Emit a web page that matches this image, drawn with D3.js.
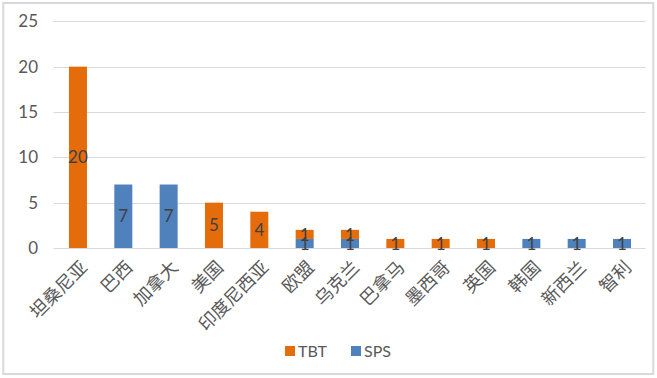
<!DOCTYPE html>
<html>
<head>
<meta charset="utf-8">
<script src="https://cdn.jsdelivr.net/npm/d3@7/dist/d3.min.js"></script>
<style>
  html, body { margin: 0; padding: 0; background: #fff; }
  svg { display: block; }
</style>
</head>
<body>
<svg id="chart" width="657" height="378"></svg>
<script>
const categories = ["坦桑尼亚","巴西","加拿大","美国","印度尼西亚","欧盟","乌克兰","巴拿马","墨西哥","英国","韩国","新西兰","智利"];
const tbtValues = [20,0,0,5,4,1,1,1,1,1,0,0,0];
const spsValues = [0,7,7,0,0,1,1,0,0,0,1,1,1];
const yTicks = [0,5,10,15,20,25];
const seriesNames = ["TBT","SPS"];
const colors = {TBT: "#E46C0A", SPS: "#4F81BD"};

const svg = d3.select("#chart");
const W = 657, H = 378;

svg.append("rect").attr("x", 3.3).attr("y", 3).attr("width", 650).attr("height", 371)
  .attr("fill", "#fff").attr("stroke", "#D9D9D9").attr("stroke-width", 2);

const x = d3.scaleBand().domain(categories).range([55.3, 644.7]).paddingInner(0.603).paddingOuter(0.3015);
const y = d3.scaleLinear().domain([0, 25]).range([248, 21.3]);

// gridlines
svg.append("g").selectAll("line").data(yTicks).join("line")
  .attr("x1", 53.5).attr("x2", 645.7)
  .attr("y1", d => Math.round(y(d)) + 0.5).attr("y2", d => Math.round(y(d)) + 0.5)
  .attr("stroke", "#D9D9D9").attr("stroke-width", 1);

// y axis labels
const yAxis = d3.axisLeft(y).tickValues(yTicks).tickSize(0).tickPadding(0);
const gy = svg.append("g").attr("transform", "translate(38,0)").call(yAxis);
gy.select(".domain").remove();
gy.selectAll("text").attr("font-family", "Lato, 'Liberation Sans', sans-serif")
  .attr("font-size", 17).attr("fill", "#595959");

// data
const rows = categories.map((c, i) => ({cat: c, SPS: spsValues[i], TBT: tbtValues[i]}));
const stack = d3.stack().keys(["SPS","TBT"]);
const stacked = stack(rows);

const gBars = svg.append("g");
stacked.forEach(s => {
  gBars.append("g").attr("fill", colors[s.key]).selectAll("rect").data(s).join("rect")
    .attr("x", d => x(d.data.cat))
    .attr("width", x.bandwidth())
    .attr("y", d => y(d[1]))
    .attr("height", d => y(d[0]) - y(d[1]));
});

// data labels
const gLab = svg.append("g");
stacked.forEach(s => {
  gLab.append("g").selectAll("text").data(s.filter(d => d[1] - d[0] > 0)).join("text")
    .attr("x", d => x(d.data.cat) + x.bandwidth() / 2)
    .attr("y", d => y((d[0] + d[1]) / 2))
    .attr("dy", "0.36em")
    .attr("text-anchor", "middle")
    .attr("font-family", "Lato, 'Liberation Sans', sans-serif")
    .attr("font-size", 17)
    .attr("fill", "#404040")
    .text(d => d[1] - d[0]);
});

// x axis labels
const xAxis = d3.axisBottom(x).tickSize(0).tickPadding(0);
const gx = svg.append("g").attr("transform", "translate(0,248)").call(xAxis);
gx.select(".domain").remove();
gx.selectAll("text")
  .attr("font-family", "'Noto Sans CJK SC', sans-serif")
  .attr("font-size", 18)
  .attr("fill", "#595959")
  .attr("text-anchor", "end")
  .attr("dy", "0.35em")
  .attr("transform", "translate(6,16) rotate(-45)");

// legend
const legend = svg.append("g");
const legendItems = [{name: "TBT", x: 285}, {name: "SPS", x: 351}];
legendItems.forEach(it => {
  legend.append("rect").attr("x", it.x).attr("y", 346).attr("width", 10).attr("height", 10)
    .attr("fill", colors[it.name]);
  legend.append("text").attr("x", it.x + 13).attr("y", 357)
    .attr("font-family", "Lato, 'Liberation Sans', sans-serif")
    .attr("font-size", 16).attr("fill", "#595959").text(it.name);
});
</script>
</body>
</html>
